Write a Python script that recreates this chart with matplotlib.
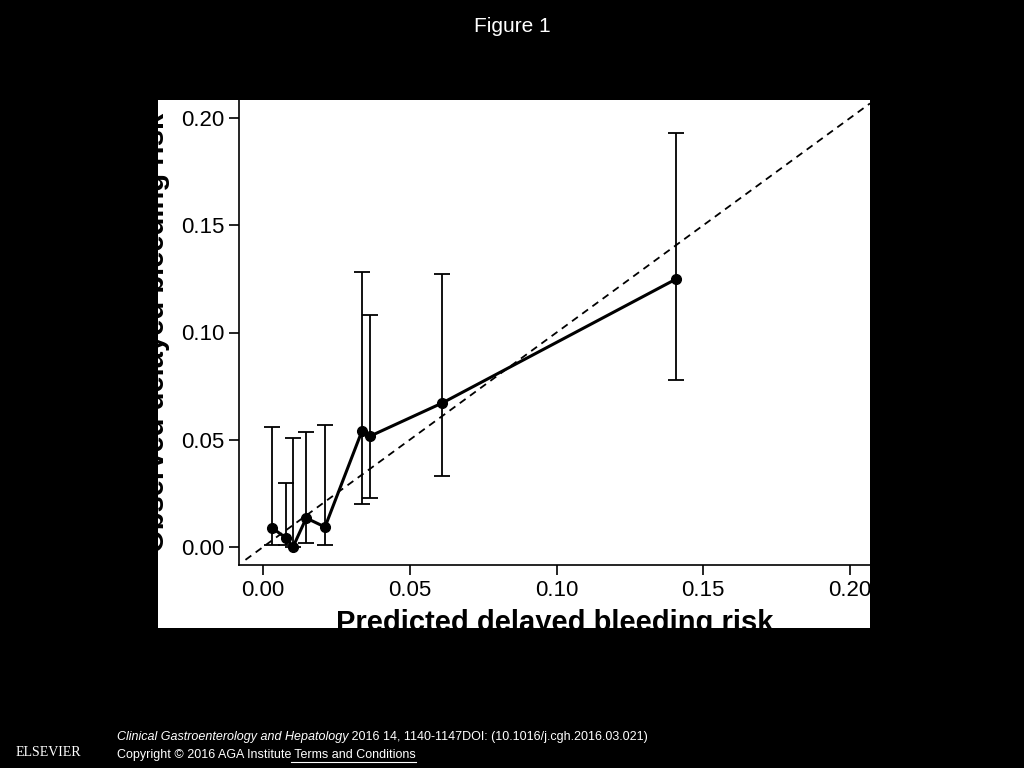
import matplotlib
matplotlib.use("Agg")
import matplotlib.pyplot as plt

plt.rcParams["font.family"] = "Liberation Sans"

predicted = [0.0031, 0.0078, 0.0102, 0.0147, 0.0211, 0.0337, 0.0365, 0.0610, 0.1407]
observed = [0.0089, 0.0042, 0.0000, 0.0135, 0.0093, 0.0541, 0.0517, 0.0671, 0.1249]
ci_low = [0.0010, 0.0008, 0.0000, 0.0020, 0.0010, 0.0200, 0.0230, 0.0330, 0.0780]
ci_high = [0.0560, 0.0298, 0.0510, 0.0535, 0.0570, 0.1280, 0.1080, 0.1275, 0.1930]
ticks = [0.00, 0.05, 0.10, 0.15, 0.20]
tick_labels = ["0.00", "0.05", "0.10", "0.15", "0.20"]

W, H = 1024, 768
fig = plt.figure(figsize=(10.24, 7.68), dpi=100, facecolor="black")
bg = fig.add_axes([158 / W, 1 - 628 / H, (870 - 158) / W, (628 - 100) / H], zorder=-5)
bg.set_facecolor("white")
bg.set_xticks([]); bg.set_yticks([])
for s in bg.spines.values():
    s.set_visible(False)

ax = fig.add_axes([239 / W, 1 - 565 / H, (870 - 239) / W, (565 - 100) / H], zorder=1)
ax.patch.set_alpha(0)
ax.set_xlim(-0.0082, 0.2068)
ax.set_ylim(-0.0084, 0.2084)
ax.plot([-0.006, 0.2068], [-0.006, 0.2068], ls=(0, (4, 3)), color="black", lw=1.3, clip_on=False)
yerr = [[o - l for o, l in zip(observed, ci_low)], [h - o for o, h in zip(observed, ci_high)]]
ax.errorbar(predicted, observed, yerr=yerr, fmt="none", ecolor="black", elinewidth=1.3, capsize=6, capthick=1.3)
ax.plot(predicted, observed, color="black", lw=2.2, marker="o", ms=7)
for s in ["top", "right"]:
    ax.spines[s].set_visible(False)
ax.spines["left"].set_linewidth(1.2)
ax.spines["bottom"].set_linewidth(1.2)
ax.set_xticks(ticks)
ax.set_xticklabels(tick_labels)
ax.set_yticks(ticks)
ax.set_yticklabels(tick_labels)
ax.tick_params(labelsize=16, length=7, width=1.2)
ax.set_xlabel("Predicted delayed bleeding risk", fontsize=21, fontweight="bold", labelpad=6)
ax.set_ylabel("Observed delayed bleeding risk", fontsize=21, fontweight="bold", labelpad=8)

fig.text(0.5, 1 - 27 / H, "Figure 1", color="white", fontsize=15, ha="center", va="center")
t1 = fig.text(117 / W, 1 - 737 / H, "Clinical Gastroenterology and Hepatology", color="white", fontsize=9,
              style="italic", va="center")
t3 = fig.text(117 / W, 1 - 755 / H, "Copyright © 2016 AGA Institute", color="white", fontsize=9, va="center")
fig.canvas.draw()
r = fig.canvas.get_renderer()
e1 = t1.get_window_extent(r)
e3 = t3.get_window_extent(r)
fig.text(e1.x1 / W, 1 - 737 / H, " 2016 14, 1140-1147DOI: (10.1016/j.cgh.2016.03.021)", color="white",
         fontsize=9, va="center")
t4 = fig.text(e3.x1 / W, 1 - 755 / H, " Terms and Conditions", color="white", fontsize=9, va="center")
fig.canvas.draw()
e4 = t4.get_window_extent(r)
fig.lines.append(plt.Line2D([e4.x0 / W, e4.x1 / W], [(e4.y0 - 1) / H] * 2, transform=fig.transFigure,
                            color="white", lw=0.8))
fig.text(48 / W, 1 - 752 / H, "ELSEVIER", color="white", fontsize=10, family="Liberation Serif",
         ha="center", va="center")
fig.savefig("out.png", dpi=100, facecolor="black")
